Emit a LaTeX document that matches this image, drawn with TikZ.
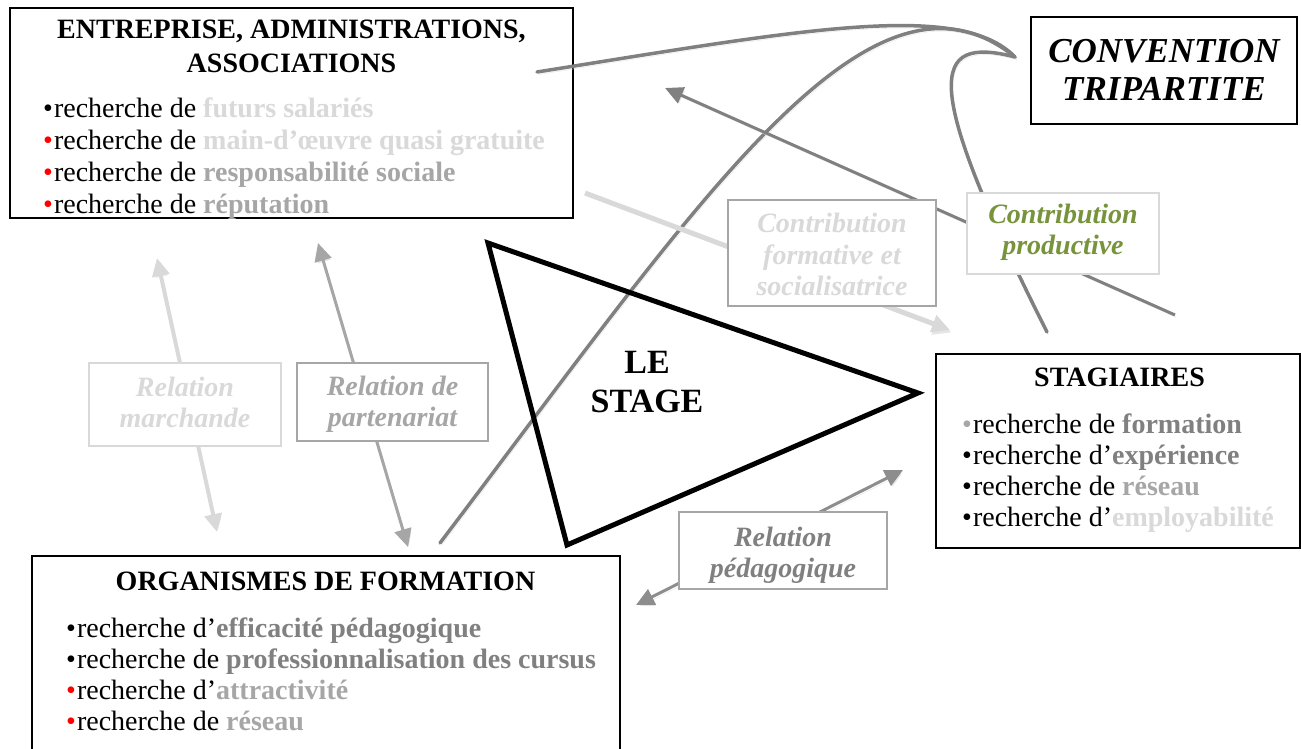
\documentclass[tikz,border=0pt]{standalone}
\usepackage{fontspec}
\setmainfont{Liberation Serif}
\usetikzlibrary{arrows.meta}
\definecolor{lgray}{HTML}{D9D9D9}
\definecolor{mgray}{HTML}{A6A6A6}
\definecolor{dgray}{HTML}{808080}
\definecolor{cgreen}{HTML}{77933C}
\newcommand{\bul}[1]{{\color{#1}\textbullet}\hspace{1pt}}
\newcommand{\kw}[2]{{\bfseries\color{#1}#2}}
\begin{document}
\begin{tikzpicture}[x=1pt,y=-1pt,
  mainbox/.style={draw=black, line width=2pt, fill=white, inner sep=0pt},
  labbox/.style={line width=1.3pt, fill=white, inner sep=0pt},
  tl/.style={anchor=base west, inner sep=0pt, font=\fontsize{28}{31}\selectfont},
  tc/.style={anchor=base, inner sep=0pt, font=\fontsize{28}{31}\selectfont\bfseries},
  lb/.style={anchor=base, inner sep=0pt, font=\fontsize{28}{31}\selectfont\bfseries\itshape},
  shadowed/.style={preaction={draw=black!10, transform canvas={shift={(1.5pt,-2.5pt)}}}},
  conn/.style={draw=dgray, line width=3.5pt, line cap=round, shadowed},
  rel/.style={line width=3pt, shadowed, {Triangle[length=18pt,width=17pt]}-{Triangle[length=18pt,width=17pt]}},
  onearrow/.style={shadowed, -{Triangle[length=18pt,width=17pt]}}
]
\useasboundingbox (0,0) rectangle (1301,748);

% main boxes
\node[mainbox, minimum width=563pt, minimum height=210pt] (ent) at (291.5,113) {};
\node[mainbox, minimum width=588pt, minimum height=220pt] (org) at (326,666) {};
\node[mainbox, minimum width=364pt, minimum height=194pt] (stag) at (1118,450.5) {};
\node[mainbox, line width=1.6pt, minimum width=266pt, minimum height=107pt] (conv) at (1164,70.5) {};

% texts in Entreprise box
\node[tc] (ent-t1) at (291.5,38) {ENTREPRISE, ADMINISTRATIONS,};
\node[tc] (ent-t2) at (291.5,72) {ASSOCIATIONS};
\node[tl] (ent-l1) at (43,117) {\bul{black}recherche de \kw{lgray}{futurs salariés}};
\node[tl] (ent-l2) at (43,149) {\bul{red}recherche de \kw{lgray}{main-d’œuvre quasi gratuite}};
\node[tl] (ent-l3) at (43,181) {\bul{red}recherche de \kw{mgray}{responsabilité sociale}};
\node[tl] (ent-l4) at (43,213) {\bul{red}recherche de \kw{mgray}{réputation}};

% texts in Organismes box
\node[tc] (org-t) at (325.5,590) {ORGANISMES DE FORMATION};
\node[tl] (org-l1) at (66,637) {\bul{black}recherche d’\kw{dgray}{efficacité pédagogique}};
\node[tl] (org-l2) at (66,668) {\bul{black}recherche de \kw{dgray}{professionnalisation des cursus}};
\node[tl] (org-l3) at (66,699) {\bul{red}recherche d’\kw{mgray}{attractivité}};
\node[tl] (org-l4) at (66,730) {\bul{red}recherche de \kw{mgray}{réseau}};

% texts in Stagiaires box
\node[tc] (stag-t) at (1119.5,386) {STAGIAIRES};
\node[tl] (stag-l1) at (962,433) {\bul{mgray}recherche de \kw{dgray}{formation}};
\node[tl] (stag-l2) at (962,464) {\bul{black}recherche d’\kw{dgray}{expérience}};
\node[tl] (stag-l3) at (962,495) {\bul{black}recherche de \kw{mgray}{réseau}};
\node[tl] (stag-l4) at (962,526) {\bul{black}recherche d’\kw{lgray}{employabilité}};

% convention text
\node[anchor=base, inner sep=0pt, font=\fontsize{35}{38}\selectfont\bfseries\itshape] (conv-t1) at (1164,62) {CONVENTION};
\node[anchor=base, inner sep=0pt, font=\fontsize{35}{38}\selectfont\bfseries\itshape] (conv-t2) at (1164,100) {TRIPARTITE};

% connector end points
\coordinate (ctip) at (1015,57);
\coordinate (a0) at (537,72);
\coordinate (b0) at (440,543);
\coordinate (c0) at (1047,332);
\coordinate (m1) at (157,258);
\coordinate (m2) at (217,532);
\coordinate (p1) at (318,243);
\coordinate (p2) at (408,547);
\coordinate (g1) at (636,605);
\coordinate (g2) at (903,470);
\coordinate (f1) at (585,193);
\coordinate (f2) at (950,330);
\coordinate (q1) at (1175,315);
\coordinate (q2) at (665,88);

% curves to the convention
\draw[conn] (a0) .. controls (800,30) and (960,0) .. (ctip);
\draw[conn] (b0) .. controls (700,200) and (870,-60) .. (ctip);
\draw[conn] (c0) .. controls (920,80) and (930,35) .. (ctip);

% arrows
\draw[rel, draw=lgray, line width=4pt] (m1) -- (m2);
\draw[rel, draw=mgray] (p1) -- (p2);
\draw[rel, draw=dgray!90] (g1) -- (g2);
\draw[onearrow, draw=lgray, line width=5pt] (f1) -- (f2);
\draw[onearrow, draw=dgray, line width=3pt] (q1) -- (q2);

% label boxes
\node[labbox, draw=lgray, minimum width=192pt, minimum height=83pt] (marc) at (185,404.5) {};
\node[lb, text=lgray] (marc-1) at (185,396) {Relation};
\node[lb, text=lgray] (marc-2) at (185,427) {marchande};

\node[labbox, draw=mgray, minimum width=191pt, minimum height=78pt] (part) at (392.5,402) {};
\node[lb, text=mgray] (part-1) at (392.5,395) {Relation de};
\node[lb, text=mgray] (part-2) at (392.5,426) {partenariat};

\node[labbox, draw=mgray, minimum width=208pt, minimum height=77pt] (peda) at (783,550.5) {};
\node[lb, text=dgray] (peda-1) at (783,546) {Relation};
\node[lb, text=dgray] (peda-2) at (783,577) {pédagogique};

\node[labbox, draw=mgray, minimum width=208pt, minimum height=106pt] (form) at (832,253) {};
\node[lb, text=lgray] (form-1) at (832,232) {Contribution};
\node[lb, text=lgray] (form-2) at (832,264) {formative et};
\node[lb, text=lgray] (form-3) at (832,295) {socialisatrice};

\node[labbox, draw=lgray, minimum width=192pt, minimum height=81pt] (prod) at (1063,233.5) {};
\node[lb, text=cgreen] (prod-1) at (1063,223) {Contribution};
\node[lb, text=cgreen] (prod-2) at (1063,254) {productive};

% triangle
\coordinate (t1) at (488,243);
\coordinate (t2) at (918,393);
\coordinate (t3) at (567,545);
\draw[line width=5pt, line join=miter] (t1) -- (t2) -- (t3) -- cycle;
\node[anchor=base, inner sep=0pt, font=\fontsize{34}{37}\selectfont\bfseries] (le) at (647,373) {LE};
\node[anchor=base, inner sep=0pt, font=\fontsize{34}{37}\selectfont\bfseries] (stage) at (647,412) {STAGE};
\end{tikzpicture}
\end{document}
